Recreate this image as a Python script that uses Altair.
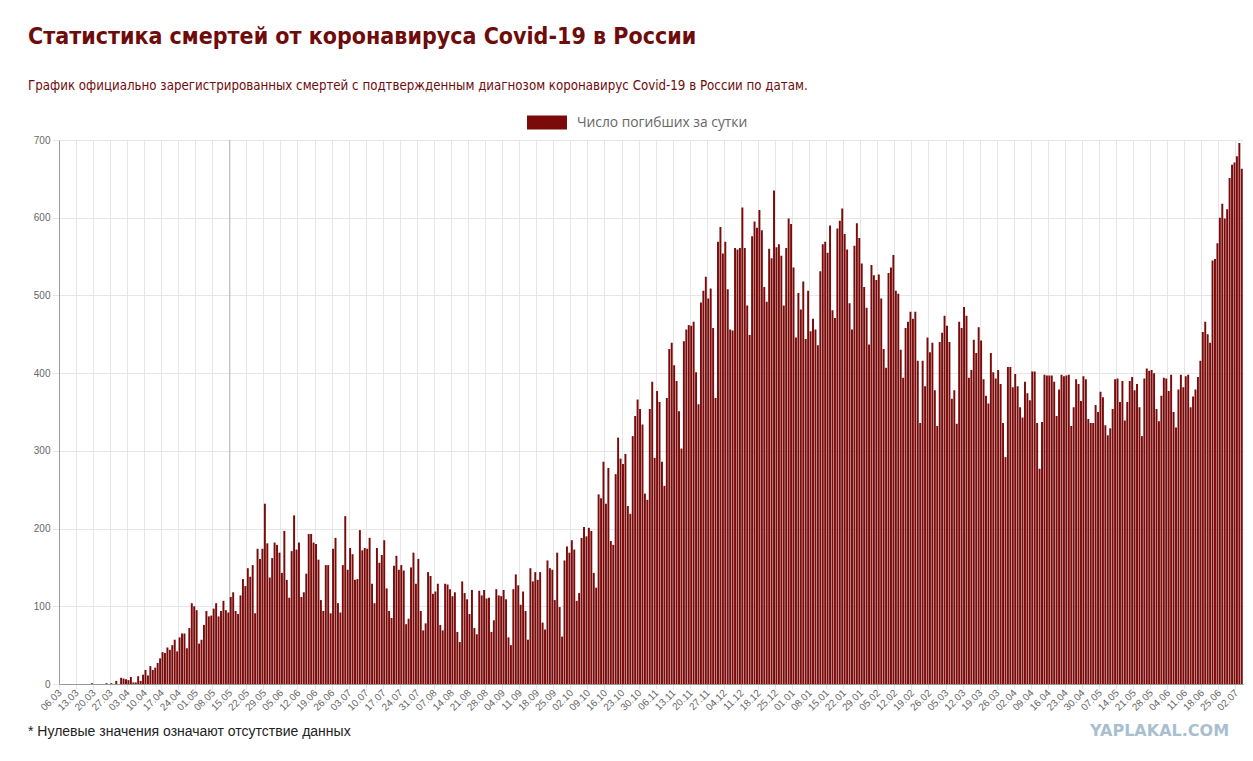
import altair as alt
import pandas as pd

# daily deaths, one list per month (0 = no data)
mar_2020 = [0] * 13 + [1, 0, 0, 0, 0, 0, 1, 0, 1, 0, 4, 0, 8]
apr_2020 = [7, 6, 5, 9, 2, 2, 10, 4, 12,
            18, 11, 23, 18, 21, 27, 33, 41, 40, 47,
            44, 50, 57, 42, 60, 65, 65, 46, 72, 104,
            100]
may_2020 = [95, 52, 57, 76, 94, 87, 88, 97, 104,
            87, 94, 107, 95, 92, 112, 118, 94, 90, 114,
            135, 126, 149, 138, 153, 91, 174, 161, 174, 232,
            181, 137]
jun_2020 = [162, 182, 179, 169, 143, 197, 134, 111,
            171, 217, 173, 182, 112, 118, 142, 193, 193, 182,
            180, 160, 108, 94, 153, 153, 91, 174, 188, 104,
            92, 153]
jul_2020 = [216, 147, 175, 167, 134, 135, 198, 172,
            175, 174, 188, 129, 104, 175, 156, 166, 185, 123,
            94, 85, 152, 165, 147, 153, 146, 77, 84, 150,
            169, 129, 161]
aug_2020 = [94, 69, 78, 144, 139, 116, 119,
            129, 76, 69, 129, 128, 122, 113, 118, 67, 54,
            132, 117, 109, 90, 121, 72, 64, 120, 114, 121,
            110, 111, 67, 82]
sep_2020 = [122, 114, 113, 121, 109, 60,
            50, 122, 141, 127, 102, 119, 94, 57, 149, 132,
            144, 134, 144, 79, 70, 159, 149, 147, 108, 169,
            99, 61, 159, 177]
oct_2020 = [169, 185, 173, 107, 117, 188,
            202, 190, 201, 197, 143, 124, 244, 239, 286, 232,
            278, 184, 179, 270, 317, 290, 283, 296, 229, 219,
            319, 345, 366, 354, 334]
nov_2020 = [245, 237, 354, 389, 291,
            377, 363, 286, 255, 368, 431, 439, 410, 390, 351,
            303, 441, 456, 462, 461, 466, 401, 360, 491, 506,
            524, 496, 509, 458, 368]
dec_2020 = [569, 588, 554, 569, 508,
            456, 455, 561, 559, 561, 613, 561, 487, 449, 576,
            595, 587, 610, 584, 511, 492, 560, 548, 635, 562,
            566, 551, 487, 561, 599, 592]
jan_2021 = [536, 446, 503, 482,
            518, 444, 506, 454, 470, 456, 436, 531, 566, 569,
            555, 590, 481, 471, 586, 596, 612, 579, 559, 490,
            456, 564, 593, 574, 541, 511, 484]
feb_2021 = [437, 539, 526,
            520, 527, 496, 431, 407, 529, 536, 552, 506, 502,
            430, 394, 458, 466, 479, 470, 479, 416, 336, 416,
            383, 446, 427, 439, 378]
mar_2021 = [332, 440, 452, 474, 461,
            440, 367, 378, 335, 466, 458, 485, 474, 394, 404,
            443, 426, 459, 442, 392, 371, 361, 426, 401, 393,
            404, 386, 336, 292, 408, 408]
apr_2021 = [382, 399, 383, 356,
            343, 389, 374, 365, 402, 402, 336, 277, 337, 398,
            397, 397, 397, 389, 345, 379, 398, 396, 397, 398,
            332, 356, 392, 386, 364, 396]
may_2021 = [392, 341, 336, 336,
            359, 350, 376, 369, 333, 320, 329, 354, 392, 393,
            363, 390, 339, 363, 390, 395, 378, 386, 356, 319,
            393, 406, 403, 404, 400, 354, 338]
jun_2021 = [371, 394, 393,
            377, 398, 350, 330, 379, 398, 382, 396, 398, 356,
            370, 379, 395, 416, 453, 466, 450, 439, 545, 547,
            567, 600, 618, 599, 611, 651, 668]
jul_2021 = [671, 679, 696, 663]

deaths = (mar_2020 + apr_2020 + may_2020 + jun_2020 + jul_2020 + aug_2020
          + sep_2020 + oct_2020 + nov_2020 + dec_2020 + jan_2021 + feb_2021
          + mar_2021 + apr_2021 + may_2021 + jun_2021 + jul_2021)
dates = pd.date_range("2020-03-06", periods=len(deaths), freq="D").strftime("%Y-%m-%d").tolist()
week_ticks = dates[::7]

series_name = "Число погибших за сутки"
title_text = "Статистика смертей от коронавируса Covid-19 в России"
subtitle_text = ("График официально зарегистрированных смертей с подтвержденным "
                 "диагнозом коронавирус Covid-19 в России по датам.")
note_text = "* Нулевые значения означают отсутствие данных"
mark_text = "YAPLAKAL.COM"

source = pd.DataFrame({"date": dates, "deaths": deaths, "series": series_name})

DARK_RED = "#7b0a0a"
NARROW = "DejaVu Sans Condensed, DejaVu Sans, sans-serif"

bars = alt.Chart(source).mark_bar(color=DARK_RED).encode(
    alt.X("date:O")
        .scale(paddingInner=0.2, paddingOuter=0.1)
        .axis(values=week_ticks,
              labelExpr="slice(datum.value, 8, 10) + '.' + slice(datum.value, 5, 7)",
              labelAngle=315, labelAlign="right", labelBaseline="middle",
              labelOverlap=False, labelPadding=2, bandPosition=0,
              grid=True, gridColor="#e6e6e6", tickColor="#e6e6e6", tickSize=5,
              domainColor="#9a9a9a", labelColor="#666666", labelFontSize=10,
              labelFont="Liberation Sans", title=None),
    alt.Y("deaths:Q")
        .scale(domain=[0, 700], nice=False)
        .axis(values=list(range(0, 701, 100)), grid=True, gridColor="#e6e6e6",
              tickColor="#e6e6e6", tickSize=7, labelPadding=2,
              domainColor="#9a9a9a", labelColor="#666666", labelFontSize=10,
              labelFont="Liberation Sans", title=None),
    alt.Color("series:N")
        .scale(range=[DARK_RED])
        .legend(orient="none", legendX=468, legendY=-37.5, title=None,
                symbolType="M-1,-0.35H1V0.35H-1Z", symbolSize=1600,
                symbolStrokeWidth=0, symbolOpacity=1, labelOffset=10,
                labelFont="Open Sans", labelFontSize=13.8, labelColor="#666666",
                labelLimit=400, padding=0),
)

# the darker vertical line seen at 15.05
marker = alt.Chart(pd.DataFrame({"date": ["2020-05-15"]})).mark_rule(
    color="#b5b5b5", strokeWidth=1
).encode(
    alt.X("date:O", bandPosition=0),
    y=alt.value(0), y2=alt.value(544),
)

def label(text, x, y, **style):
    return alt.Chart(pd.DataFrame({"t": [text]})).mark_text(
        align="left", baseline="alphabetic", **style
    ).encode(text="t:N", x=alt.value(x), y=alt.value(y))

title = label(title_text, -31, -96, font=NARROW, fontSize=23,
              fontWeight="bold", color="#6e0b0b")
subtitle = label(subtitle_text, -31, -50, font=NARROW, fontSize=13.2,
                 color="#6e0b0b")
note = label(note_text, -31, 596, font="Liberation Sans", fontSize=14,
             color="#222222")
watermark = label(mark_text, 1031, 596, font="DejaVu Sans", fontSize=16,
                  fontWeight="bold", color="#a9bfd0")

chart = alt.layer(marker, bars, title, subtitle, note, watermark).properties(
    width=1184,
    height=544,
    autosize=alt.AutoSizeParams(type="none"),
    padding={"left": 51, "top": 132, "right": 2, "bottom": 60},
).configure_view(stroke=None)

chart.save("out.html", embed_options={"renderer": "svg", "actions": False})
